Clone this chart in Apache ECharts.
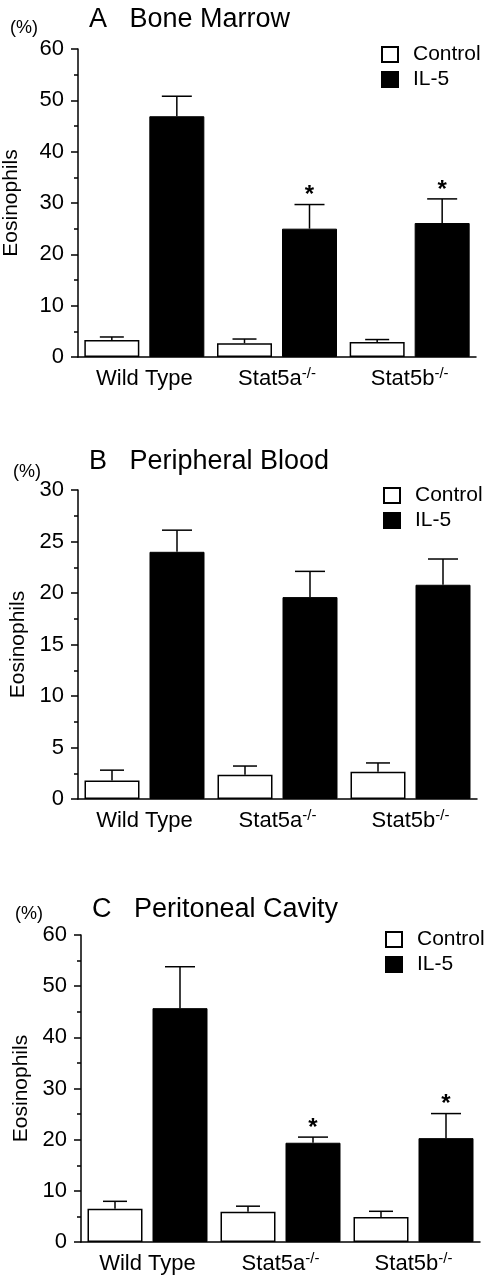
<!DOCTYPE html>
<html lang="en">
<head>
    <meta charset="UTF-8">
    <title>Eosinophils</title>
    <style>
        html, body { margin: 0; padding: 0; background: #fff; }
        #chart { width: 488px; height: 1280px; }
    </style>
</head>
<body>
<div id="chart"></div>
<script src="https://cdn.jsdelivr.net/npm/echarts@6/dist/echarts.min.js"></script>
<script type="text/javascript">
    // categories / tick labels
    var categories = ['Wild Type', 'Stat5a-/-', 'Stat5b-/-'];
    var panelTitles = ['A   Bone Marrow', 'B   Peripheral Blood', 'C   Peritoneal Cavity'];
    var yMax = [60, 30, 60];
    var yStep = [10, 5, 10];

    // A: bone marrow
    var ctrlA = [3.3, 2.7, 2.9];
    var ctrlErrA = [0.6, 0.8, 0.5];
    var il5A = [46.9, 25.0, 26.1];
    var il5ErrA = [3.9, 4.7, 4.7];
    var sigA = [0, 1, 1];

    // B: peripheral blood
    var ctrlB = [1.8, 2.35, 2.65];
    var ctrlErrB = [1.0, 0.85, 0.85];
    var il5B = [24.0, 19.6, 20.8];
    var il5ErrB = [2.1, 2.5, 2.5];
    var sigB = [0, 0, 0];

    // C: peritoneal cavity
    var ctrlC = [6.5, 5.9, 4.9];
    var ctrlErrC = [1.45, 1.1, 1.1];
    var il5C = [45.7, 19.4, 20.3];
    var il5ErrC = [8.1, 1.1, 4.8];
    var sigC = [0, 1, 1];

    var ctrl = [ctrlA, ctrlB, ctrlC];
    var ctrlErr = [ctrlErrA, ctrlErrB, ctrlErrC];
    var il5 = [il5A, il5B, il5C];
    var il5Err = [il5ErrA, il5ErrB, il5ErrC];
    var sig = [sigA, sigB, sigC];

    var FONT = "'Liberation Sans', Arial, Helvetica, sans-serif";
    var BAR_W = 55, BAR_GAP = 10;
    var OFF = (BAR_W + BAR_GAP) / 2;

    var grids = [
        {left: 78, right: 12, top: 49, height: 308, outerBoundsMode: 'none'},
        {left: 78, right: 11, top: 490, height: 309, outerBoundsMode: 'none'},
        {left: 81, right: 8, top: 935, height: 307, outerBoundsMode: 'none'}
    ];
    var legendPos = [{left: 381, top: 44}, {left: 383, top: 485}, {left: 385, top: 929}];
    var nameGaps = [56, 46, 49];
    var pctPos = [[10, 30], [13, 474], [15, 916]];
    var titleTop = [6, 448, 896];
    var titleLeft = [89, 89, 92];

    function errItem(offset, capW) {
        return function (params, api) {
            var i = api.value(0), v = api.value(1), e = api.value(2), s = api.value(3);
            var base = api.coord([i, v]);
            var top = api.coord([i, v + e]);
            var cx = base[0] + offset;
            var st = {stroke: '#000', lineWidth: 1.5};
            var children = [
                {type: 'line', shape: {x1: cx, y1: base[1], x2: cx, y2: top[1]}, style: st},
                {type: 'line', shape: {x1: cx - capW / 2, y1: top[1], x2: cx + capW / 2, y2: top[1]}, style: st}
            ];
            if (s) {
                children.push({
                    type: 'text',
                    style: {text: '*', x: cx, y: top[1] - 9, align: 'center', verticalAlign: 'middle',
                        fontSize: 24, fontWeight: 'bold', fontFamily: FONT, fill: '#000'}
                });
            }
            return {type: 'group', children: children};
        };
    }

    function errData(vals, errs, sigs) {
        return vals.map(function (v, i) { return [i, v, errs[i], sigs ? sigs[i] : 0]; });
    }

    var option = {
        backgroundColor: '#fff',
        animation: false,
        title: [], grid: grids, xAxis: [], yAxis: [], legend: [], series: [],
        graphic: []
    };

    for (var p = 0; p < 3; p++) {
        option.title.push({
            text: panelTitles[p], left: titleLeft[p], top: titleTop[p], padding: 0,
            textStyle: {fontSize: 27, fontWeight: 'normal', fontFamily: FONT, color: '#000'}
        });
        option.graphic.push({
            type: 'text', left: pctPos[p][0], top: pctPos[p][1] - 11,
            style: {text: '(%)', fontSize: 18, fontFamily: FONT, fill: '#000'}
        });
        option.xAxis.push({
            type: 'category', gridIndex: p, data: categories,
            axisLine: {lineStyle: {color: '#000', width: 1.5}},
            axisTick: {length: 5, lineStyle: {color: '#000', width: 1.5}},
            axisLabel: {
                margin: 9, color: '#000',
                formatter: function (v) {
                    var k = v.indexOf('-/-');
                    return k < 0 ? '{n|' + v + '}' : '{n|' + v.slice(0, k) + '}{s|-/-}';
                },
                rich: {
                    n: {fontSize: 22, fontFamily: FONT, color: '#000', lineHeight: 25},
                    s: {fontSize: 15, fontFamily: FONT, color: '#000', verticalAlign: 'top', lineHeight: 15}
                }
            }
        });
        option.yAxis.push({
            type: 'value', gridIndex: p, min: 0, max: yMax[p], interval: yStep[p],
            name: 'Eosinophils', nameLocation: 'middle', nameRotate: 90, nameGap: nameGaps[p],
            nameTextStyle: {fontSize: 21, fontFamily: FONT, color: '#000'},
            axisLine: {show: true, lineStyle: {color: '#000', width: 1.5}},
            axisTick: {show: true, length: 7, lineStyle: {color: '#000', width: 1.5}},
            minorTick: {show: true, splitNumber: 2, length: 4, lineStyle: {color: '#000', width: 1.5}},
            splitLine: {show: false},
            axisLabel: {margin: 14, fontSize: 22, fontFamily: FONT, color: '#000'}
        });
        option.legend.push({
            orient: 'vertical', left: legendPos[p].left, top: legendPos[p].top,
            data: ['Control', 'IL-5'], selectedMode: false, icon: 'rect',
            itemWidth: 16, itemHeight: 15, itemGap: 4, padding: 0,
            textStyle: {fontSize: 21, fontFamily: FONT, color: '#000', padding: [0, 0, 0, 10]}
        });
        option.series.push({
            name: 'Control', type: 'bar', xAxisIndex: p, yAxisIndex: p, data: ctrl[p],
            barWidth: BAR_W, barGap: (BAR_GAP / BAR_W * 100) + '%',
            itemStyle: {color: '#fff', borderColor: '#000', borderWidth: 1.5}
        });
        option.series.push({
            name: 'IL-5', type: 'bar', xAxisIndex: p, yAxisIndex: p, data: il5[p],
            barWidth: BAR_W, barGap: (BAR_GAP / BAR_W * 100) + '%',
            itemStyle: {color: '#000', borderColor: '#000', borderWidth: 1}
        });
        option.series.push({
            type: 'custom', xAxisIndex: p, yAxisIndex: p, z: 5,
            renderItem: errItem(-OFF, 24), data: errData(ctrl[p], ctrlErr[p]),
            encode: {x: 0, y: 1}
        });
        option.series.push({
            type: 'custom', xAxisIndex: p, yAxisIndex: p, z: 5,
            renderItem: errItem(OFF, 30), data: errData(il5[p], il5Err[p], sig[p]),
            encode: {x: 0, y: 1}
        });
    }

    var chart = echarts.init(document.getElementById('chart'));
    chart.setOption(option);
</script>
</body>
</html>
